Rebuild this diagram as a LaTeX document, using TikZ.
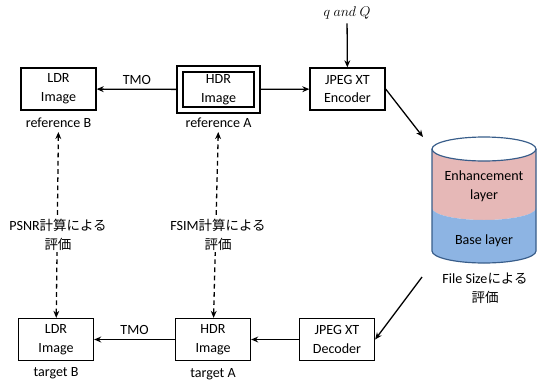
\documentclass[tikz,border=0pt]{standalone}
\usepackage{fontspec}
\setmainfont{Carlito}
\newfontfamily\jpfont{Noto Sans CJK JP}
\usetikzlibrary{arrows.meta}
\definecolor{dbPink}{HTML}{E6B8B7}
\definecolor{dbBlue}{HTML}{8DB4E3}
\definecolor{dbEdge}{HTML}{385D8A}
\newcommand\figfont{\fontsize{12}{16}\selectfont}
\newcommand\jpsize{\jpfont\fontsize{11.5}{16}\selectfont}
\tikzset{
  img box/.style={draw, line width=1.1pt, minimum width=2.25cm, minimum height=1.26cm, inner sep=1pt, align=center, font=\figfont},
  ref box/.style={img box, double, double distance=3.8pt, minimum width=2.31cm, minimum height=1.23cm, outer sep=2.5pt},
  img label/.style={font=\figfont, align=center},
  flow/.style={line width=1.1pt, -{Stealth[length=6pt,width=5pt]}},
  eval/.style={line width=1.1pt, dash pattern=on 4pt off 3pt, {Stealth[length=6pt,width=5pt]}-{Stealth[length=6pt,width=5pt]}},
}

\begin{document}
\begin{tikzpicture}[x=0.03cm, y=-0.03cm]
  \useasboundingbox (0,0) rectangle (537,385);
  % Upper row
  \node[img box] (ldrB) at (58.5,89) {LDR\\Image};
  \node[ref box] (hdrA) at (218.5,89.5) {HDR\\Image};
  \node[img box] (enc) at (347.5,89) {JPEG XT\\Encoder};
  \node[img label] (refB) at (58.5,123) {reference B};
  \node[img label] (refA) at (218.5,123) {reference A};
  \node[font=\fontsize{13}{16}\selectfont] (qQ) at (347,13) {$q\ and\ Q$};
  % Lower row
  \node[img box] (ldrT) at (56,339.5) {LDR\\Image};
  \node[img box] (hdrT) at (213,339.5) {HDR\\Image};
  \node[img box] (dec) at (337,339.5) {JPEG XT\\Decoder};
  \node[img label] (tgtB) at (56,373) {target B};
  \node[img label] (tgtA) at (213,374) {target A};
  % Codestream cylinder
  \fill[dbPink] (432,149) -- (432,208) arc[start angle=180, end angle=0, x radius=52, y radius=12]
    -- (536,149) arc[start angle=0, end angle=180, x radius=52, y radius=12] -- cycle;
  \fill[dbBlue] (432,208) arc[start angle=180, end angle=0, x radius=52, y radius=12]
    -- (536,251) arc[start angle=0, end angle=180, x radius=52, y radius=12] -- cycle;
  \draw[dbEdge, line width=1pt] (432,149) -- (432,251) arc[start angle=180, end angle=0, x radius=52, y radius=12] -- (536,149);
  \draw[dbEdge, line width=1pt] (484,149) ellipse[x radius=52, y radius=12];
  \node[img label] (enh) at (484,186) {Enhancement\\layer};
  \node[img label] (base) at (484,241) {Base layer};
  \node[img label] (fsize) at (485,288) {File Size{\jpsize による}\\{\jpsize 評価}};
  \coordinate (dbin) at (423,137);
  \coordinate (dbout) at (422,277);
  % Connectors
  \draw[flow] (hdrA) -- node[above, font=\figfont] {TMO} (ldrB);
  \draw[flow] (hdrA) -- (enc);
  \draw[flow] (qQ) -- (enc);
  \draw[flow] (enc.east) -- (dbin);
  \draw[flow] (dbout) -- (dec.east);
  \draw[flow] (dec) -- (hdrT);
  \draw[flow] (hdrT) -- node[above, font=\figfont] {TMO} (ldrT);
  \draw[eval] (refB) -- (ldrT);
  \draw[eval] (refA) -- (hdrT);
  \node[img label, fill=white, inner sep=1pt] (psnr) at (58,235) {PSNR{\jpsize 計算による}\\{\jpsize 評価}};
  \node[img label, fill=white, inner sep=1pt] (fsim) at (218,235) {FSIM{\jpsize 計算による}\\{\jpsize 評価}};
\end{tikzpicture}
\end{document}
